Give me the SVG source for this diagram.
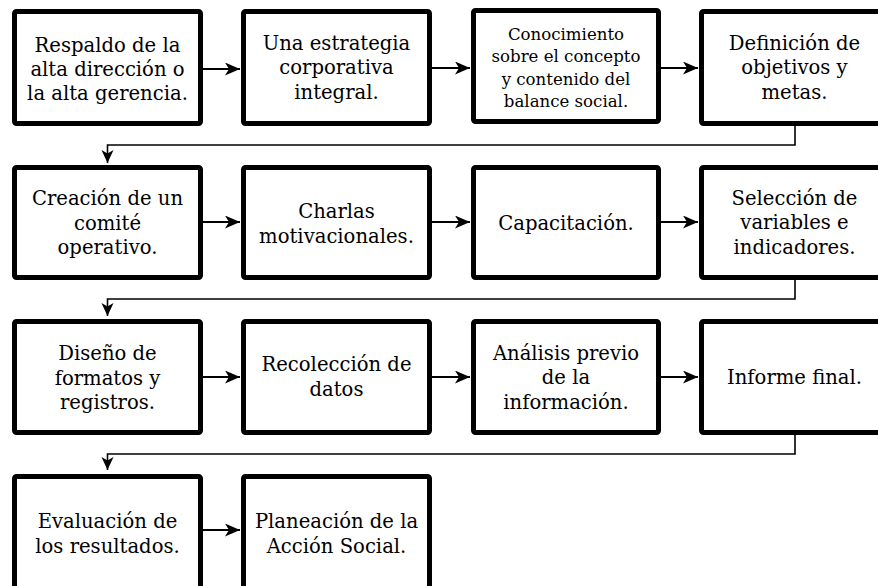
<svg xmlns="http://www.w3.org/2000/svg" width="878" height="586" viewBox="0 0 878 586">
<style>
.box{fill:#fff;stroke:#000;stroke-width:5}
text{font-family:'DejaVu Serif',serif;font-size:19.6px;fill:#000;text-anchor:middle}
text.s{font-size:16.6px}
.c{fill:none;stroke:#000;stroke-width:2;marker-end:url(#ah)}
.e{fill:none;stroke:#000;stroke-width:1.6;marker-end:url(#ad)}
</style>
<defs>
<marker id="ah" markerUnits="userSpaceOnUse" markerWidth="16" markerHeight="14" refX="15" refY="6.5" orient="auto">
<path d="M0,0 L15,6.5 L0,13 L4,6.5 z" fill="#000"/>
</marker>
<marker id="ad" markerUnits="userSpaceOnUse" markerWidth="14" markerHeight="14" refX="13" refY="6" orient="auto">
<path d="M0,0 L13,6 L0,12 L3.5,6 z" fill="#000"/>
</marker>
</defs>
<rect width="878" height="586" fill="#fff"/>
<g id="connectors">
<line class="c" x1="203" y1="69" x2="240" y2="69"/>
<line class="c" x1="432" y1="68" x2="470" y2="68"/>
<line class="c" x1="661" y1="68" x2="698" y2="68"/>
<polyline class="e" points="795,126 795,145 107.5,145 107.5,163"/>
<line class="c" x1="203" y1="222" x2="240" y2="222"/>
<line class="c" x1="432" y1="222" x2="470" y2="222"/>
<line class="c" x1="661" y1="222" x2="698" y2="222"/>
<polyline class="e" points="795,280 795,299 107.5,299 107.5,316"/>
<line class="c" x1="203" y1="377" x2="240" y2="377"/>
<line class="c" x1="432" y1="377" x2="470" y2="377"/>
<line class="c" x1="661" y1="377" x2="698" y2="377"/>
<polyline class="e" points="795,435 795,454 107.5,454 107.5,470"/>
<line class="c" x1="203" y1="530" x2="240" y2="530"/>
</g>
<g id="n1"><rect class="box" x="14.5" y="11.5" width="186" height="112" rx="2"/>
<text x="107.5" y="52">Respaldo de la</text><text x="107.5" y="76">alta dirección o</text><text x="107.5" y="100">la alta gerencia.</text></g>
<g id="n2"><rect class="box" x="243.5" y="11.5" width="186" height="112" rx="2"/>
<text x="336.5" y="50">Una estrategia</text><text x="336.5" y="74">corporativa</text><text x="336.5" y="99">integral.</text></g>
<g id="n3"><rect class="box" x="473.5" y="10.5" width="185" height="111" rx="2"/>
<text class="s" x="566" y="40">Conocimiento</text><text class="s" x="566" y="62">sobre el concepto</text><text class="s" x="566" y="85">y contenido del</text><text class="s" x="566" y="107">balance social.</text></g>
<g id="n4"><rect class="box" x="701.5" y="11.5" width="190" height="112" rx="2"/>
<text x="794.5" y="50">Definición de</text><text x="794.5" y="74">objetivos y</text><text x="794.5" y="99">metas.</text></g>
<g id="n5"><rect class="box" x="14.5" y="167.5" width="186" height="110" rx="2"/>
<text x="107.5" y="205">Creación de un</text><text x="107.5" y="230">comité</text><text x="107.5" y="254">operativo.</text></g>
<g id="n6"><rect class="box" x="243.5" y="167.5" width="186" height="110" rx="2"/>
<text x="336.5" y="218">Charlas</text><text x="336.5" y="243">motivacionales.</text></g>
<g id="n7"><rect class="box" x="473.5" y="167.5" width="185" height="110" rx="2"/>
<text x="566" y="230">Capacitación.</text></g>
<g id="n8"><rect class="box" x="701.5" y="167.5" width="190" height="110" rx="2"/>
<text x="794.5" y="205">Selección de</text><text x="794.5" y="229">variables e</text><text x="794.5" y="254">indicadores.</text></g>
<g id="n9"><rect class="box" x="14.5" y="321.5" width="186" height="111" rx="2"/>
<text x="107.5" y="360">Diseño de</text><text x="107.5" y="385">formatos y</text><text x="107.5" y="409">registros.</text></g>
<g id="n10"><rect class="box" x="243.5" y="321.5" width="186" height="111" rx="2"/>
<text x="336.5" y="371">Recolección de</text><text x="336.5" y="396">datos</text></g>
<g id="n11"><rect class="box" x="473.5" y="321.5" width="185" height="111" rx="2"/>
<text x="566" y="360">Análisis previo</text><text x="566" y="384">de la</text><text x="566" y="409">información.</text></g>
<g id="n12"><rect class="box" x="701.5" y="321.5" width="190" height="111" rx="2"/>
<text x="794.5" y="384">Informe final.</text></g>
<g id="n13"><rect class="box" x="14.5" y="476.5" width="186" height="130" rx="2"/>
<text x="107.5" y="528">Evaluación de</text><text x="107.5" y="553">los resultados.</text></g>
<g id="n14"><rect class="box" x="243.5" y="476.5" width="186" height="130" rx="2"/>
<text x="336.5" y="528">Planeación de la</text><text x="336.5" y="553">Acción Social.</text></g>
</svg>
